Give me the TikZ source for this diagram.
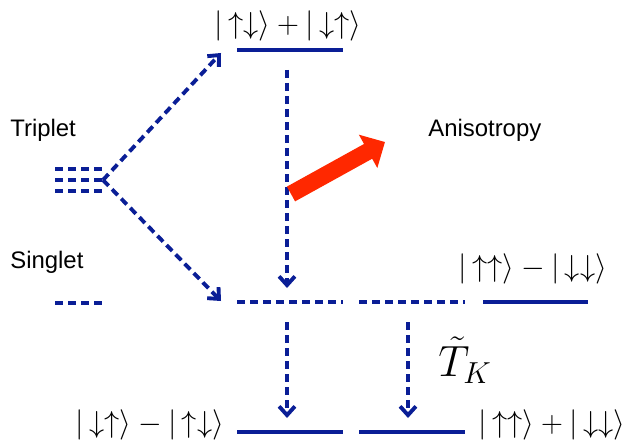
\documentclass[tikz,border=0pt]{standalone}
\usepackage{fontspec}
\setsansfont{Liberation Sans}
\usetikzlibrary{arrows.meta}
\definecolor{levblue}{RGB}{10,30,150}
\definecolor{hotred}{RGB}{255,40,0}
\tikzset{
  solidlev/.style={levblue, line width=2.2pt},
  dashlev/.style={solidlev, dash pattern=on 4.6pt off 2.8pt},
  hop/.style={dashlev, -{Straight Barb[length=5pt,width=9pt]}},
  spinname/.style={font=\sffamily\fontsize{13.6}{16}\selectfont, anchor=west, inner sep=0pt},
  ket/.style={font=\fontsize{18}{22}\selectfont, inner sep=0pt},
  pusharrow/.style={hotred, line width=9.6pt, -{Triangle[length=11pt,width=21pt]}}
}
\begin{document}
\begin{tikzpicture}[x=0.02cm, y=-0.02cm]
	\useasboundingbox (0,0) rectangle (628,442);
	% spin multiplets on the left
	\node[spinname] (triplet) at (10,130) {Triplet};
	\node[spinname] (singlet) at (10,262) {Singlet};
	\foreach \y in {169,180,191} \draw[dashlev] (55,\y) -- (103,\y);
	\draw[dashlev] (55,303) coordinate (sing-l) -- (103,303) coordinate (sing-r);
	\coordinate (branch) at (103,180);
	% levels
	\draw[solidlev] (237,50) coordinate (top-l) -- (343,50) coordinate (top-r);
	\draw[dashlev] (237,302) coordinate (mid-l) -- (343,302) coordinate (mid-r);
	\draw[dashlev] (359,302) coordinate (midb-l) -- (465,302) coordinate (midb-r);
	\draw[solidlev] (483,302) coordinate (side-l) -- (588,302) coordinate (side-r);
	\draw[solidlev] (237,432) coordinate (bot-l) -- (343,432) coordinate (bot-r);
	\draw[solidlev] (359,432) coordinate (botb-l) -- (465,432) coordinate (botb-r);
	% state labels
	\node[ket] (ket-top) at (288,26) {$|\,{\uparrow\downarrow}\rangle + |\,{\downarrow\uparrow}\rangle$};
	\node[ket] (ket-side) at (533,269) {$|\,{\uparrow\uparrow}\rangle - |\,{\downarrow\downarrow}\rangle$};
	\node[ket] (ket-bot) at (150,425) {$|\,{\downarrow\uparrow}\rangle - |\,{\uparrow\downarrow}\rangle$};
	\node[ket] (ket-botb) at (552,425) {$|\,{\uparrow\uparrow}\rangle + |\,{\downarrow\downarrow}\rangle$};
	\node[font=\fontsize{27}{32}\selectfont, inner sep=0pt] (tk) at (465,360) {$\tilde{T}_K$};
	\node[spinname] (aniso) at (428,130) {Anisotropy};
	% transitions
	\coordinate (up-tip) at (221,53);
	\coordinate (down-tip) at (221,301);
	\draw[hop] (branch) -- (up-tip);
	\draw[hop] (branch) -- (down-tip);
	\draw[hop] (287,70) coordinate (drop-a) -- (287,288) coordinate (drop-b);
	\draw[hop] (287,322) coordinate (drop-c) -- (287,418) coordinate (drop-d);
	\draw[hop] (408,322) coordinate (drop-e) -- (408,418) coordinate (drop-f);
	% anisotropy push
	\draw[pusharrow] (291,194) coordinate (push-a) -- (385,142) coordinate (push-b);
\end{tikzpicture}
\end{document}
